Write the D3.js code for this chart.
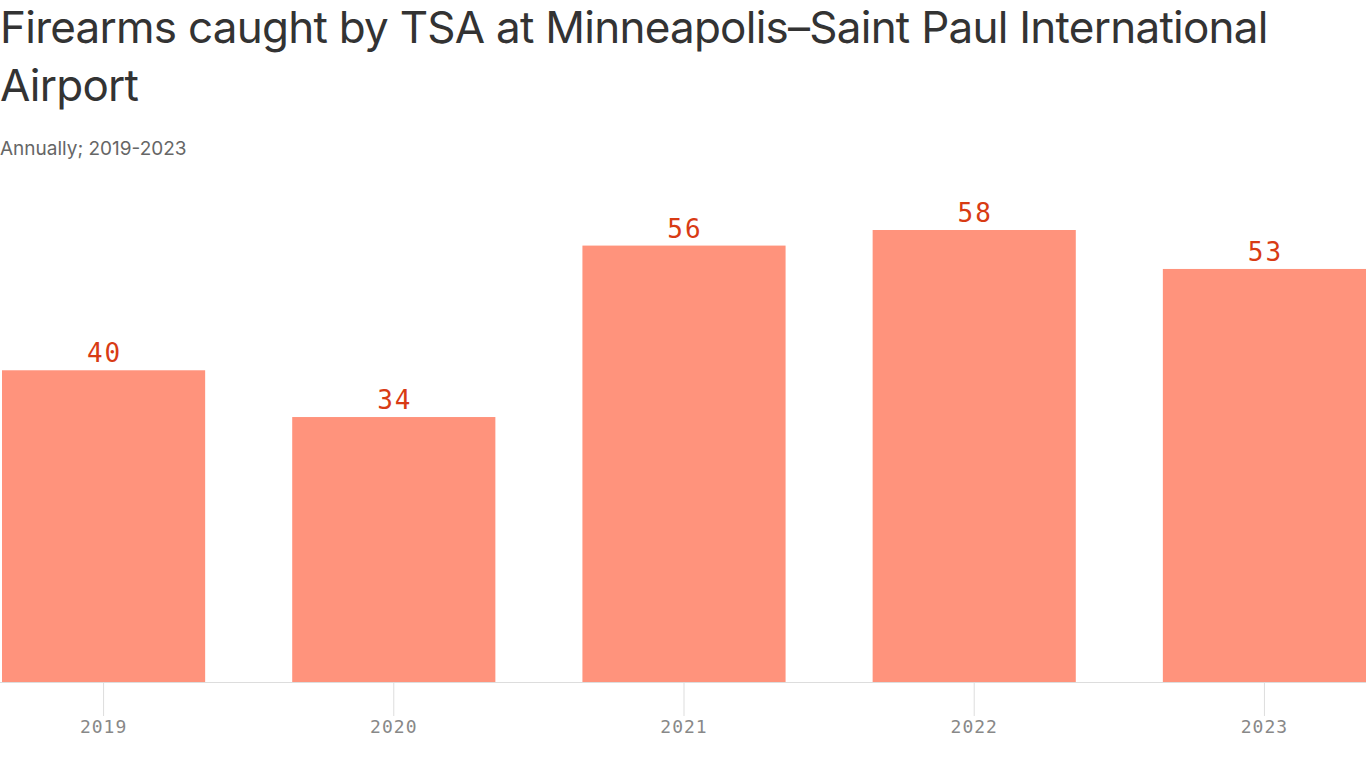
<!DOCTYPE html>
<html>
<head>
<meta charset="utf-8">
<script src="https://cdn.jsdelivr.net/npm/d3@7"></script>
<style>
  body { margin: 0; background: #fff; }
  svg { display: block; }
</style>
</head>
<body>
<script>
var years = ["2019", "2020", "2021", "2022", "2023"];
var firearms = [40, 34, 56, 58, 53];

var width = 1366;
var height = 768;

var svg = d3.select("body").append("svg")
    .attr("width", width)
    .attr("height", height);

var sans = "Inter, 'Noto Sans', sans-serif";
var mono = "'DejaVu Sans Mono', 'Liberation Mono', monospace";

svg.append("text")
    .attr("x", 0)
    .attr("y", 43)
    .attr("font-family", sans)
    .attr("font-size", "44px")
    .attr("letter-spacing", "-0.75px")
    .attr("fill", "#333")
    .text("Firearms caught by TSA at Minneapolis–Saint Paul International");

svg.append("text")
    .attr("x", 0)
    .attr("y", 101)
    .attr("font-family", sans)
    .attr("font-size", "44px")
    .attr("letter-spacing", "-0.75px")
    .attr("fill", "#333")
    .text("Airport");

svg.append("text")
    .attr("x", 0)
    .attr("y", 155)
    .attr("font-family", sans)
    .attr("font-size", "19px")
    .attr("letter-spacing", "0px")
    .attr("fill", "#666")
    .text("Annually; 2019-2023");

var x = d3.scaleBand()
    .domain(years)
    .range([2, width])
    .paddingInner(0.3)
    .paddingOuter(0);

var y = d3.scaleLinear()
    .domain([0, 58])
    .range([682, 230]);

var xAxis = d3.axisBottom(x)
    .tickSize(34)
    .tickPadding(4);

var axisG = svg.append("g")
    .attr("transform", "translate(0,682)")
    .call(xAxis);

axisG.select(".domain").remove();
axisG.selectAll(".tick line").attr("stroke", "#ddd");
axisG.selectAll(".tick text")
    .attr("font-family", mono)
    .attr("font-size", "18px")
    .attr("letter-spacing", "1px")
    .attr("fill", "#888");

svg.selectAll(".bar")
    .data(firearms)
    .enter()
    .append("rect")
    .attr("class", "bar")
    .attr("x", (d, i) => x(years[i]))
    .attr("y", d => y(d))
    .attr("width", x.bandwidth())
    .attr("height", d => y(0) - y(d))
    .attr("fill", "#ff937c");

svg.append("line")
    .attr("x1", 0)
    .attr("x2", width)
    .attr("y1", 682.5)
    .attr("y2", 682.5)
    .attr("stroke", "#ddd");

svg.selectAll(".label")
    .data(firearms)
    .enter()
    .append("text")
    .attr("class", "label")
    .attr("x", (d, i) => x(years[i]) + x.bandwidth() / 2 + 1)
    .attr("y", d => y(d) - 8)
    .attr("text-anchor", "middle")
    .attr("font-family", mono)
    .attr("font-size", "26px")
    .attr("letter-spacing", "2px")
    .attr("fill", "#d83b14")
    .text(d => d);
</script>
</body>
</html>
